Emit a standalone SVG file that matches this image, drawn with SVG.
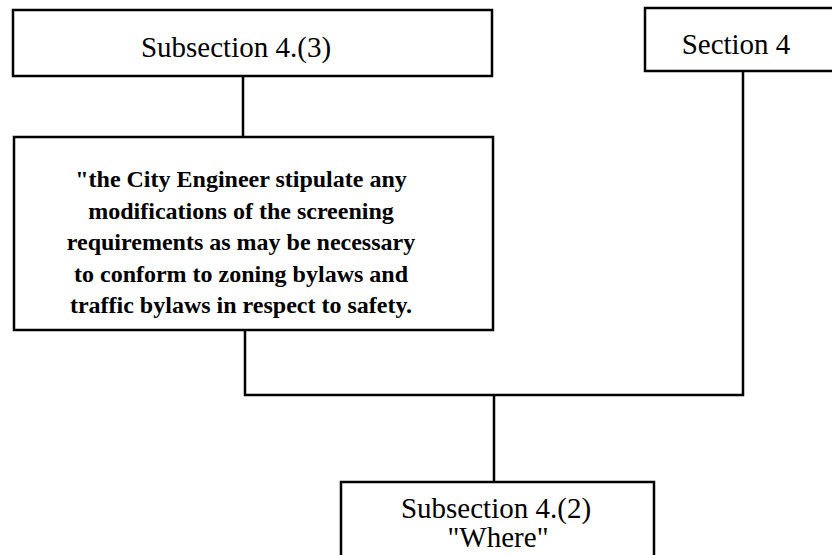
<svg xmlns="http://www.w3.org/2000/svg" width="832" height="555" viewBox="0 0 832 555">
<style>
.box{fill:#fff;stroke:#000;stroke-width:2.5}
.lbl{font-family:"Liberation Serif","Times New Roman",serif;font-size:29px;fill:#000;text-anchor:middle}
.q{font-family:"Liberation Serif","Times New Roman",serif;font-size:24px;font-weight:bold;fill:#000;text-anchor:middle}
.con{fill:none;stroke:#000;stroke-width:2.5}
</style>
<rect width="832" height="555" fill="#fff"/>
<g id="connectors">
<path class="con" d="M243 77 V137"/>
<path class="con" d="M245 330 V395 H743 V71"/>
<path class="con" d="M494 395 V482"/>
</g>
<g id="subsection-4-3">
<rect class="box" x="13" y="10" width="479" height="66"/>
<text class="lbl" x="236" y="57">Subsection 4.(3)</text>
</g>
<g id="section-4">
<rect class="box" x="645" y="8" width="190" height="63"/>
<text class="lbl" x="736" y="54">Section 4</text>
</g>
<g id="quote">
<rect class="box" x="14" y="137" width="479" height="193"/>
<text class="q" x="241" y="187">"the City Engineer stipulate any</text>
<text class="q" x="241" y="219">modifications of the screening</text>
<text class="q" x="241" y="250">requirements as may be necessary</text>
<text class="q" x="241" y="282">to conform to zoning bylaws and</text>
<text class="q" x="241" y="313">traffic bylaws in respect to safety.</text>
</g>
<g id="subsection-4-2">
<rect class="box" x="341" y="482" width="313" height="90"/>
<text class="lbl" x="496" y="518">Subsection 4.(2)</text>
<text class="lbl" x="498" y="547">"Where"</text>
</g>
</svg>
